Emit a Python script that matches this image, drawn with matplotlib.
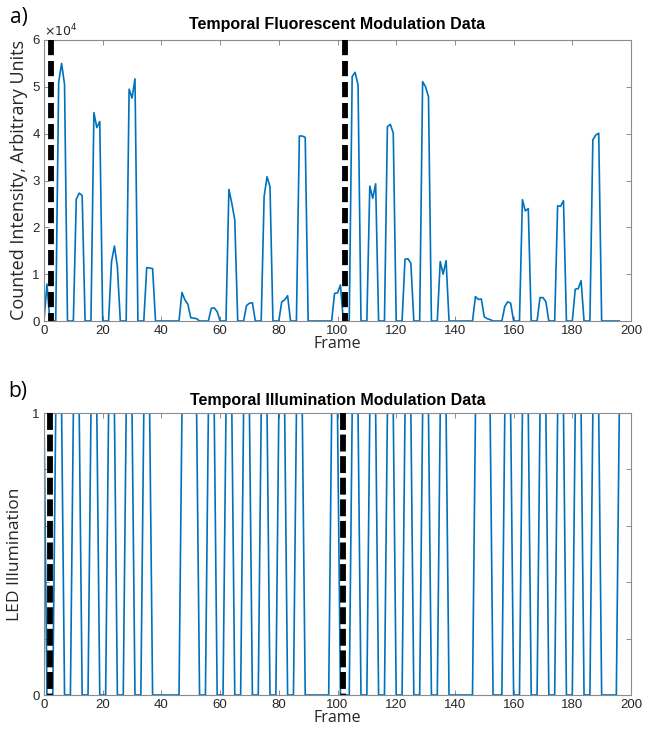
import numpy as np
import matplotlib.pyplot as plt

# --- data ---
n_frames = 197  # frames 0..196

# fluorescence counts at frames where the signal is above zero (every other frame reads 0)
fluor_frames = [1,
                5, 6, 7, 11, 12, 13, 17, 18, 19, 23, 24, 25, 29, 30, 31, 35, 36, 37,
                47, 48, 49, 50, 51, 52,
                57, 58, 59, 63, 64, 65, 69, 70, 71, 75, 76, 77, 81, 82, 83, 87, 88, 89,
                99, 100, 101,
                105, 106, 107, 111, 112, 113, 117, 118, 119, 123, 124, 125, 129, 130, 131, 135, 136, 137,
                147, 148, 149, 150, 151, 152,
                157, 158, 159, 163, 164, 165, 169, 170, 171, 175, 176, 177, 181, 182, 183, 187, 188, 189]
fluor_counts = [7900,
                51000, 55000, 50500, 26000, 27300, 26800, 44500, 41300, 42600,
                12700, 16000, 11600, 49500, 47600, 51700, 11400, 11300, 11200,
                6100, 4500, 3600, 700, 600, 500,
                2700, 2800, 2000, 28100, 25100, 21600, 3300, 3800, 3900,
                26600, 30800, 28700, 4100, 4500, 5400, 39500, 39500, 39200,
                5900, 6000, 7700,
                52200, 53100, 50400, 28800, 26200, 29300, 41500, 42000, 40100,
                13200, 13300, 12300, 51100, 50000, 47900, 12700, 10000, 12900,
                5200, 4600, 4700, 900, 500, 300,
                3100, 4100, 3800, 25900, 23500, 24000, 5000, 5000, 4100,
                24600, 24500, 25700, 6800, 6900, 8600, 38700, 39700, 40100]

# LED on-blocks (first and last frame of each block, inclusive)
led_on_start = [0, 4, 10, 16, 22, 28, 34, 47, 56, 62, 68, 74, 80, 86, 98,
                105, 111, 117, 123, 129, 135, 147, 157, 163, 169, 175, 181, 187, 196]
led_on_end = [0, 6, 12, 18, 24, 30, 36, 52, 58, 64, 70, 76, 82, 88, 100,
              107, 113, 119, 125, 131, 137, 152, 159, 165, 171, 177, 183, 189, 196]

# dashed marker positions (frame)
marker_top = [2.5, 102.5]
marker_bottom = [2.0, 102.0]

x_ticks = [0, 20, 40, 60, 80, 100, 120, 140, 160, 180, 200]

# --- build series ---
frames = np.arange(n_frames)
fluor = np.zeros(n_frames)
fluor[fluor_frames] = fluor_counts
led = np.zeros(n_frames)
for s, e in zip(led_on_start, led_on_end):
    led[s:e + 1] = 1

plt.rcParams['font.family'] = ['Liberation Sans', 'DejaVu Sans']
blue = '#0072BD'
spine_col = '#8c8c8c'
txt_col = '#262626'
label_font = 'Open Sans'

W, H = 646, 745
fig = plt.figure(figsize=(W / 100, H / 100), dpi=100)
ax1 = fig.add_axes([44 / W, 1 - 321 / H, 587 / W, 281 / H])
ax2 = fig.add_axes([44 / W, 1 - 695 / H, 587 / W, 282 / H])


def style(ax):
    for sp in ax.spines.values():
        sp.set_color(spine_col)
        sp.set_linewidth(0.8)
    ax.tick_params(direction='in', length=3.5, width=0.7, color=spine_col,
                   top=True, right=True, labelsize=9.5, labelcolor=txt_col, pad=3)
    ax.set_xlim(0, 200)
    ax.set_xticks(x_ticks)
    ax.set_xlabel('Frame', family=label_font, fontsize=11.5, color=txt_col, labelpad=-1)


# top panel: fluorescence
ax1.plot(frames, fluor, color=blue, lw=1.2, zorder=2)
for m in marker_top:
    ax1.plot([m, m], [60000, 0], color='black', lw=4.2, dashes=(2.6, 1.0), zorder=3)
style(ax1)
ax1.set_ylim(0, 60000)
ax1.set_yticks(np.arange(0, 60001, 10000))
ax1.set_yticklabels(['0', '1', '2', '3', '4', '5', '6'])
ax1.text(0.0, 1.004, r'$\times 10^{4}$', transform=ax1.transAxes, fontsize=9,
         color=txt_col, ha='left', va='bottom')
ax1.set_title('Temporal Fluorescent Modulation Data', fontsize=11.5, fontweight='bold', pad=8)
ax1.set_ylabel('Counted Intensity, Arbitrary Units', family=label_font, fontsize=13,
               color=txt_col, labelpad=3)

# bottom panel: LED
ax2.plot(frames, led, color=blue, lw=1.2, zorder=2)
for m in marker_bottom:
    ax2.plot([m, m], [1, 0], color='black', lw=4.2, dashes=(2.9, 0.8), zorder=3)
style(ax2)
ax2.set_ylim(0, 1)
ax2.set_yticks([0, 0.2, 0.4, 0.6, 0.8, 1])
ax2.set_yticklabels(['0', '', '', '', '', '1'])
ax2.set_title('Temporal Illumination Modulation Data', fontsize=11.5, fontweight='bold', pad=5.5)
ax2.set_ylabel('LED Illumination', family=label_font, fontsize=12.5, color=txt_col, labelpad=7)

fig.text(10 / W, 1 - 17 / H, 'a)', family=label_font, fontsize=15, va='center', ha='left')
fig.text(8 / W, 1 - 392 / H, 'b)', family=label_font, fontsize=15, va='center', ha='left')

fig.savefig('out.png', dpi=100)
